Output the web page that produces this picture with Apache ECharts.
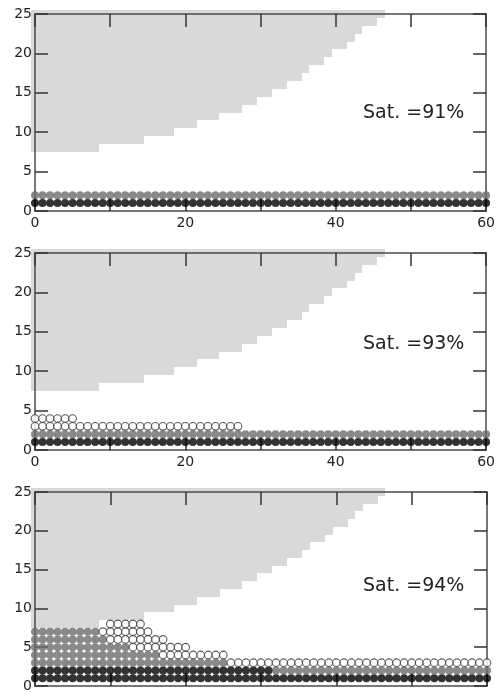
<!DOCTYPE html>
<html>
<head>
<meta charset="utf-8">
<script src="https://cdn.jsdelivr.net/npm/echarts@6/dist/echarts.min.js"></script>
<style>
  html, body { margin: 0; padding: 0; background: #fff; }
  #chart { width: 498px; height: 693px; }
</style>
</head>
<body>
<div id="chart"></div>
<script>
  // saturation label of each panel
  const satLabels = ['Sat. =91%', 'Sat. =93%', 'Sat. =94%'];

  // lower edge of the grey region, one value per column x = 0..46
  const stairBottom = [
    7.5, 7.5, 7.5, 7.5, 7.5, 7.5, 7.5, 7.5, 7.5,
    8.5, 8.5, 8.5, 8.5, 8.5, 8.5,
    9.5, 9.5, 9.5, 9.5,
    10.5, 10.5, 10.5,
    11.5, 11.5, 11.5,
    12.5, 12.5, 12.5,
    13.5, 13.5,
    14.5, 14.5,
    15.5, 15.5,
    16.5, 16.5,
    17.5,
    18.5, 18.5,
    19.5,
    20.5, 20.5,
    21.5,
    22.5,
    23.5, 23.5,
    24.5
  ];
  const stairTop = 25.5;

  // rows of cells: [y, first x, last x]
  const blackRuns1 = [[1, 0, 60]];
  const greyRuns1 = [[2, 0, 60]];
  const openRuns1 = [];

  const blackRuns2 = [[1, 0, 60]];
  const greyRuns2 = [[2, 0, 60]];
  const openRuns2 = [[3, 0, 27], [4, 0, 5]];

  const blackRuns3 = [[1, 0, 60], [2, 0, 31]];
  const greyRuns3 = [[2, 32, 60], [3, 0, 25], [4, 0, 16], [5, 0, 12], [6, 0, 9], [7, 0, 8]];
  const openRuns3 = [[3, 26, 60], [4, 17, 25], [5, 13, 20], [6, 10, 17], [7, 9, 15], [8, 10, 14]];

  const panels = [
    { black: blackRuns1, grey: greyRuns1, open: openRuns1 },
    { black: blackRuns2, grey: greyRuns2, open: openRuns2 },
    { black: blackRuns3, grey: greyRuns3, open: openRuns3 }
  ];

  const gridTops = [14, 253, 492];
  const labelTops = [104, 335, 577];
  const font = 'DejaVu Sans';

  function cells(runs) {
    const out = [];
    runs.forEach(function (r) {
      for (let x = r[1]; x <= r[2]; x++) out.push([x, r[0]]);
    });
    return out;
  }

  const axisLine = { onZero: false, lineStyle: { color: '#4a4a4a', width: 1.5 } };
  const tickStyle = { show: true, inside: true, length: 13, lineStyle: { color: '#333', width: 1.5 } };

  const grid = [], xAxis = [], yAxis = [], series = [], graphic = [];

  panels.forEach(function (p, i) {
    grid.push({ left: 35, width: 452, top: gridTops[i], height: 197 });

    xAxis.push({
      gridIndex: i, type: 'value', min: 0, max: 60, interval: 10, position: 'bottom', z: 3,
      axisLine: axisLine, axisTick: tickStyle, splitLine: { show: false },
      axisLabel: {
        show: i < 2, margin: 5, fontFamily: font, fontSize: 14, color: '#222',
        formatter: function (v) { return v % 20 === 0 ? v : ''; }
      }
    });
    xAxis.push({
      gridIndex: i, type: 'value', min: 0, max: 60, interval: 10, position: 'top', z: 3,
      axisLine: axisLine, axisTick: tickStyle, splitLine: { show: false },
      axisLabel: { show: false }
    });
    yAxis.push({
      gridIndex: i, type: 'value', min: 0, max: 25, interval: 5, position: 'left', z: 3,
      axisLine: axisLine, axisTick: tickStyle, splitLine: { show: false },
      axisLabel: { margin: 3, fontFamily: font, fontSize: 14, color: '#222' }
    });
    yAxis.push({
      gridIndex: i, type: 'value', min: 0, max: 25, interval: 5, position: 'right', z: 3,
      axisLine: axisLine, axisTick: tickStyle, splitLine: { show: false },
      axisLabel: { show: false }
    });

    // grey staircase region
    series.push({
      type: 'custom', xAxisIndex: i * 2, yAxisIndex: i * 2, z: 1, clip: false, silent: true,
      data: stairBottom.map(function (b, x) { return [x, b]; }),
      renderItem: function (params, api) {
        const x = api.value(0);
        const a = api.coord([x - 0.5, stairTop]);
        const b = api.coord([x + 0.5, api.value(1)]);
        const x0 = Math.round(a[0]), x1 = Math.round(b[0]);
        const y0 = Math.round(a[1]), y1 = Math.round(b[1]);
        return {
          type: 'rect',
          shape: { x: x0, y: y0, width: x1 - x0, height: y1 - y0 },
          style: { fill: '#d9d9d9' }
        };
      }
    });

    const common = {
      type: 'scatter', xAxisIndex: i * 2, yAxisIndex: i * 2, z: 5, clip: false, silent: true,
      symbol: 'circle', symbolSize: 8
    };
    series.push(Object.assign({}, common, {
      data: cells(p.grey), itemStyle: { color: '#6b6b6b' }
    }));
    series.push(Object.assign({}, common, {
      data: cells(p.black), itemStyle: { color: '#000' }
    }));
    series.push(Object.assign({}, common, {
      data: cells(p.open), symbolSize: 7.6,
      itemStyle: { color: '#fff', borderColor: '#333', borderWidth: 1.1 }
    }));

    graphic.push({
      type: 'text', left: 363, top: labelTops[i], z: 10,
      style: { text: satLabels[i], fontFamily: font, fontSize: 19, fill: '#222' }
    });
  });

  const chart = echarts.init(document.getElementById('chart'), null, { renderer: 'canvas' });
  chart.setOption({
    animation: false,
    backgroundColor: '#fff',
    grid: grid,
    xAxis: xAxis,
    yAxis: yAxis,
    series: series,
    graphic: graphic
  });
</script>
</body>
</html>
